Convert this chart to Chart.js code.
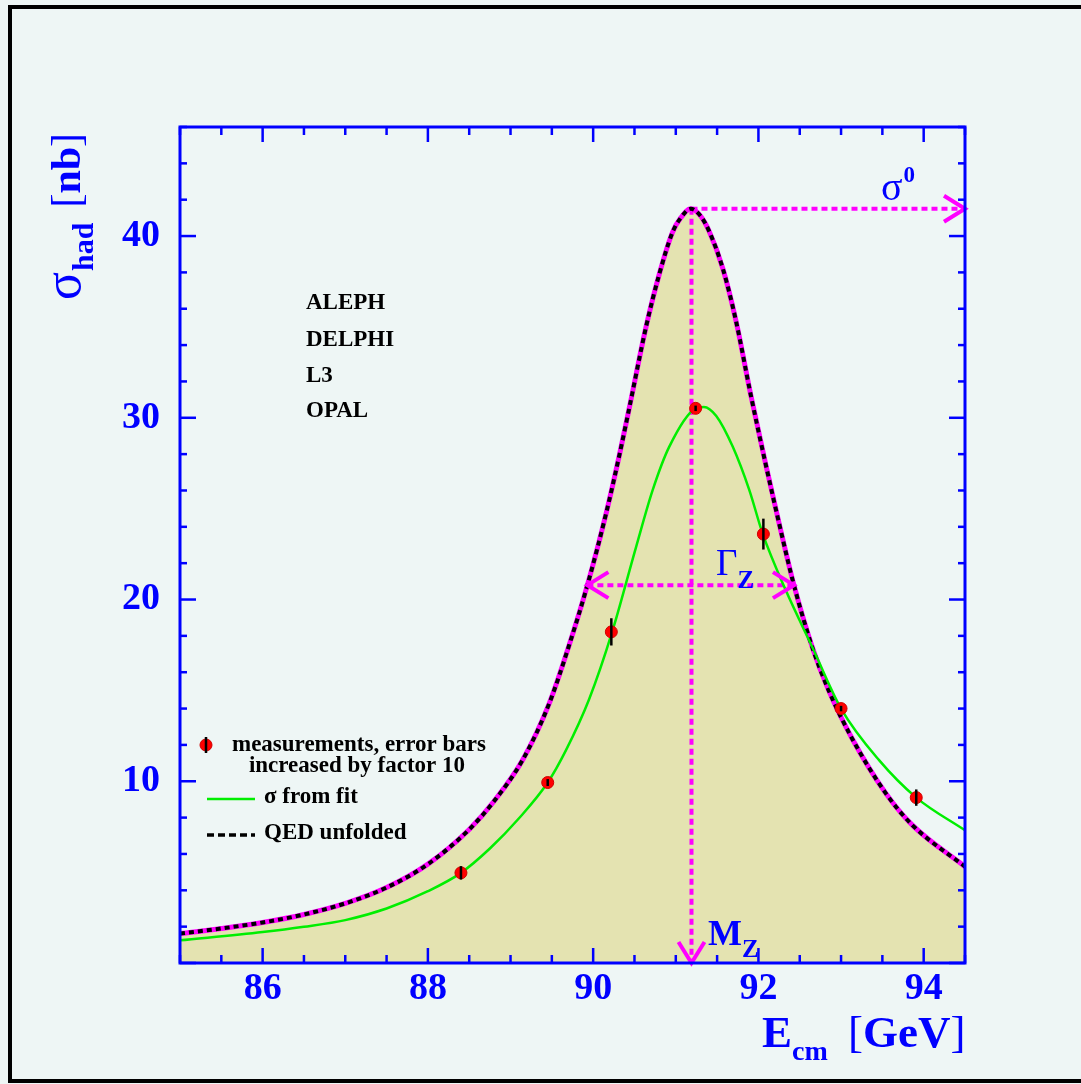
<!DOCTYPE html>
<html>
<head>
<meta charset="utf-8">
<title>Z lineshape</title>
<script src="https://cdn.jsdelivr.net/npm/chart.js@4/dist/chart.umd.min.js"></script>
<style>
  html, body { margin: 0; padding: 0; background: #eef6f5; }
  canvas { display: block; }
</style>
</head>
<body>
<canvas id="zChart" width="1081" height="1084"></canvas>
<script>
// ── data ──
const qedE     = [85.0, 85.5, 86.0, 86.5, 87.0, 87.5, 88.0, 88.5, 88.8, 89.15, 89.47, 89.71, 89.93, 90.16, 90.32, 90.44, 90.64, 90.80, 90.96, 91.06, 91.18, 91.30, 91.40, 91.57, 91.73, 91.91, 92.09, 92.25, 92.43, 92.65, 92.85, 93.14, 93.54, 93.86, 94.5];
const qedSigma = [1.62, 1.9, 2.23, 2.67, 3.28, 4.15, 5.44, 7.35, 8.9, 11.2, 14.3, 17.5, 20.79, 24.8, 28.0, 30.6, 35.0, 37.9, 40.2, 41.0, 41.5, 41.1, 40.3, 38.2, 35.3, 31.2, 27.4, 24.2, 20.79, 17.4, 15.0, 12.3, 9.35, 7.6, 5.3];

const fitE     = [85.0, 86.0, 86.5, 87.0, 87.5, 88.0, 88.4, 88.75, 89.1, 89.45, 89.67, 89.95, 90.23, 90.52, 90.72, 90.92, 91.24, 91.34, 91.49, 91.69, 91.89, 92.05, 92.33, 92.65, 93.0, 93.46, 93.91, 94.5];
const fitSigma = [1.25, 1.7, 1.99, 2.36, 3.0, 3.95, 4.96, 6.3, 7.95, 9.93, 11.7, 14.5, 18.22, 22.9, 26.02, 28.4, 30.52, 30.6, 30.1, 28.4, 26.02, 23.64, 20.52, 17.4, 14.0, 11.16, 9.1, 7.3];

const measE     = [88.40, 89.45, 90.22, 91.24, 92.06, 93.00, 93.91];
const measSigma = [4.96, 9.93, 18.22, 30.52, 23.6, 14.0, 9.1];
const measErr   = [0.37, 0.19, 0.75, 0.15, 0.85, 0.15, 0.45];   // already x10

const xTicks = [86, 88, 90, 92, 94];
const yTicks = [10, 20, 30, 40];
const experiments = ["ALEPH", "DELPHI", "L3", "OPAL"];

// resonance parameters shown by the arrows
const mZ = 91.19;
const sigma0 = 41.5;
const halfMax = 20.79;
const gammaLo = 89.93, gammaHi = 92.43;
const xMin = 85, xMax = 94.5, yMin = 0, yMax = 46;

const SERIF = '"Liberation Serif", "Times New Roman", serif';
const BLUE = "#0000ff", MAG = "#ff00ff", GREEN = "#00ee00";

const pts = (xs, ys) => xs.map((x, i) => ({ x, y: ys[i] }));

function seg(c, x1, y1, x2, y2) {
  c.beginPath(); c.moveTo(x1, y1); c.lineTo(x2, y2); c.stroke();
}

// open V arrow head, (dx,dy) = direction the arrow points
function arrowHead(c, tx, ty, dx, dy) {
  const L = 21, W = 13;
  const bx = tx - dx * L, by = ty - dy * L;
  c.beginPath();
  c.moveTo(bx - dy * W, by + dx * W);
  c.lineTo(tx, ty);
  c.lineTo(bx + dy * W, by - dx * W);
  c.stroke();
}

function txt(c, s, x, y, size, bold, color, align) {
  c.font = (bold ? "bold " : "") + size + "px " + SERIF;
  c.fillStyle = color;
  c.textAlign = align || "left";
  c.textBaseline = "alphabetic";
  c.fillText(s, x, y);
  return c.measureText(s).width;
}

const decor = {
  id: "zDecor",
  beforeDraw(chart) {
    const c = chart.ctx;
    c.save();
    c.fillStyle = "#eef6f5";
    c.fillRect(0, 0, chart.width, chart.height);
    c.strokeStyle = "#000"; c.lineWidth = 4;
    c.strokeRect(10, 7, chart.width + 20, chart.height - 10);
    c.restore();
  },
  afterDatasetsDraw(chart) {
    const c = chart.ctx, sx = chart.scales.x, sy = chart.scales.y;
    c.save();
    // error bars
    c.strokeStyle = "#000"; c.lineWidth = 2.5;
    measE.forEach((e, i) => {
      const px = sx.getPixelForValue(e);
      seg(c, px, sy.getPixelForValue(measSigma[i] - measErr[i]), px, sy.getPixelForValue(measSigma[i] + measErr[i]));
    });
    // arrow heads
    c.strokeStyle = MAG; c.lineWidth = 4; c.lineCap = "butt";
    arrowHead(c, sx.getPixelForValue(xMax), sy.getPixelForValue(sigma0), 1, 0);
    arrowHead(c, sx.getPixelForValue(mZ), sy.getPixelForValue(yMin), 0, 1);
    arrowHead(c, sx.getPixelForValue(gammaLo), sy.getPixelForValue(halfMax), -1, 0);
    arrowHead(c, sx.getPixelForValue(gammaHi), sy.getPixelForValue(halfMax), 1, 0);
    c.restore();
  },
  afterDraw(chart) {
    const c = chart.ctx, sx = chart.scales.x, sy = chart.scales.y;
    const { left, right, top, bottom } = chart.chartArea;
    c.save();
    // frame + inward ticks on all four sides
    c.strokeStyle = BLUE; c.lineWidth = 3;
    c.strokeRect(left, top, right - left, bottom - top);
    c.lineWidth = 2.5;
    sx.ticks.forEach(t => {
      const px = sx.getPixelForValue(t.value);
      const len = xTicks.includes(t.value) ? 15 : 8;
      seg(c, px, bottom, px, bottom - len);
      seg(c, px, top, px, top + len);
    });
    sy.ticks.forEach(t => {
      const py = sy.getPixelForValue(t.value);
      const len = t.value % 10 === 0 ? 16 : 7;
      seg(c, left, py, left + len, py);
      seg(c, right, py, right - len, py);
    });

    // axis titles
    let x = 762;
    x += txt(c, "E", x, 1047, 45, true, BLUE);
    txt(c, "cm", x, 1060, 28, true, BLUE);
    x = 848;
    x += txt(c, "[", x, 1047, 45, false, BLUE);
    x += txt(c, "GeV", x, 1047, 45, true, BLUE);
    txt(c, "]", x, 1047, 45, false, BLUE);

    c.save();
    c.translate(80, 300);
    c.rotate(-Math.PI / 2);
    let u = 0;
    u += txt(c, "σ", u, 0, 52, false, BLUE);
    u += txt(c, "had", u + 1, 13, 30, true, BLUE) + 16;
    u += txt(c, "[", u, 0, 42, false, BLUE);
    u += txt(c, "nb", u, 0, 42, true, BLUE);
    txt(c, "]", u, 0, 42, false, BLUE);
    c.restore();

    // arrow labels
    const w1 = txt(c, "σ", 881, 200, 40, false, BLUE);
    txt(c, "0", 881 + w1 + 1, 182, 23, true, BLUE);
    const w2 = txt(c, "Γ", 716, 575, 37, false, BLUE);
    txt(c, "Z", 716 + w2, 588, 25, true, BLUE);
    const w3 = txt(c, "M", 708, 945, 36, true, BLUE);
    txt(c, "Z", 708 + w3, 957, 25, true, BLUE);

    // experiments
    experiments.forEach((s, i) => txt(c, s, 306, [309, 346, 382, 417][i], 23, true, "#000"));

    // legend
    c.fillStyle = "#ff0000"; c.strokeStyle = "#d00000"; c.lineWidth = 1;
    c.beginPath(); c.arc(206, 745, 6, 0, 2 * Math.PI); c.fill(); c.stroke();
    c.strokeStyle = "#000"; c.lineWidth = 2.5;
    seg(c, 206, 737, 206, 753);
    txt(c, "measurements, error bars", 232, 751, 23, true, "#000");
    txt(c, "increased by factor 10", 357, 772, 23, true, "#000", "center");
    c.strokeStyle = GREEN; c.lineWidth = 2.5;
    seg(c, 207, 799, 255, 799);
    txt(c, "σ from fit", 264, 803, 23, true, "#000");
    c.strokeStyle = "#000"; c.lineWidth = 3.5; c.setLineDash([7, 4]);
    seg(c, 207, 835, 255, 835);
    c.setLineDash([]);
    txt(c, "QED unfolded", 264, 839, 23, true, "#000");
    c.restore();
  }
};

const magLine = (data) => ({
  data, showLine: true, borderColor: MAG, borderWidth: 4, borderDash: [6, 4],
  pointRadius: 0, tension: 0, order: 3
});

new Chart(document.getElementById("zChart"), {
  type: "scatter",
  data: {
    datasets: [
      { label: "measurements", data: pts(measE, measSigma), showLine: false,
        pointRadius: 6, pointBackgroundColor: "#ff0000", pointBorderColor: "#d00000", pointBorderWidth: 1, order: 0 },
      { label: "σ from fit", data: pts(fitE, fitSigma), showLine: true, borderColor: GREEN, borderWidth: 2.5,
        pointRadius: 0, cubicInterpolationMode: "monotone", order: 1 },
      { label: "QED unfolded", data: pts(qedE, qedSigma), showLine: true, borderColor: "#000", borderWidth: 4,
        borderDash: [5, 4], pointRadius: 0, cubicInterpolationMode: "monotone", order: 2 },
      magLine([{ x: mZ, y: sigma0 }, { x: mZ, y: yMin }]),
      magLine([{ x: mZ, y: sigma0 }, { x: xMax, y: sigma0 }]),
      magLine([{ x: gammaLo, y: halfMax }, { x: gammaHi, y: halfMax }]),
      { label: "QED base", data: pts(qedE, qedSigma), showLine: true, borderColor: MAG, borderWidth: 5,
        fill: "origin", backgroundColor: "#e4e3b1", pointRadius: 0, cubicInterpolationMode: "monotone", order: 4 }
    ]
  },
  options: {
    responsive: false,
    animation: false,
    devicePixelRatio: 1,
    layout: { padding: { left: 0, top: 127, right: 116, bottom: 0 } },
    plugins: { legend: { display: false }, tooltip: { enabled: false } },
    scales: {
      x: {
        type: "linear", min: xMin, max: xMax,
        afterFit(s) { s.height = 121; },
        grid: { display: false, drawTicks: false },
        border: { display: false },
        ticks: { stepSize: 0.5, autoSkip: false, maxRotation: 0, padding: 3, color: BLUE,
          font: { family: SERIF, size: 38, weight: "bold" },
          callback: v => xTicks.includes(v) ? String(v) : "" }
      },
      y: {
        type: "linear", min: yMin, max: yMax,
        afterFit(s) { s.width = 180; },
        grid: { display: false, drawTicks: false },
        border: { display: false },
        ticks: { stepSize: 2, autoSkip: false, padding: 20, color: BLUE,
          font: { family: SERIF, size: 38, weight: "bold" },
          callback: v => yTicks.includes(v) ? String(v) : "" }
      }
    }
  },
  plugins: [decor]
});
</script>
</body>
</html>
